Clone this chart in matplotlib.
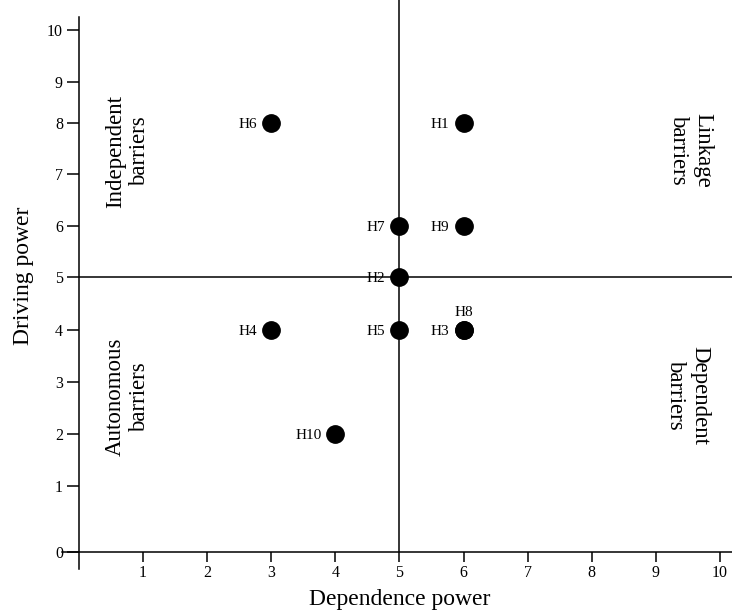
import numpy as np
import matplotlib
matplotlib.use("Agg")
from matplotlib import pyplot as plt

plt.rcParams['font.family'] = ['Liberation Serif', 'DejaVu Serif']

# barriers: dependence power (x), driving power (y)
names = ['H1', 'H2', 'H3', 'H4', 'H5', 'H6', 'H7', 'H8', 'H9', 'H10']
dependence = [6, 5, 6, 3, 5, 3, 5, 6, 6, 4]
driving = [8, 5, 4, 4, 4, 8, 6, 4, 6, 2]
label_above = ['H8']

x_ticks = list(range(1, 11))
y_ticks = list(range(0, 11))

# the printed y axis is not evenly spaced, keep that spacing
y_tick_height = [0, 66, 118, 170, 222, 275, 326, 378, 429, 470, 522]
v_ext = np.array([-5] + y_ticks + [15], dtype=float)
h_ext = np.array([-330] + y_tick_height + [522 + 5 * 52], dtype=float)


def fwd(v):
    return np.interp(v, v_ext, h_ext)


def inv(h):
    return np.interp(h, h_ext, v_ext)


W, H = 732, 613
fig = plt.figure(figsize=(W / 100, H / 100), dpi=100)
ax = fig.add_axes([59.8 / W, 43 / H, (W - 59.8) / W, 570 / H])
ax.set_yscale('function', functions=(fwd, inv))
ax.set_xlim(-0.3, 10.19)
ax.set_ylim(-18 / 66, 10 + 30 / 52)

for s in ['top', 'right']:
    ax.spines[s].set_visible(False)
ax.spines['left'].set_position(('data', 0))
ax.spines['bottom'].set_position(('data', 0))
ax.spines['left'].set_bounds(-0.25, 10.25)
ax.spines['bottom'].set_bounds(-0.27, 10.19)
for s in ['left', 'bottom']:
    ax.spines[s].set_linewidth(1.1)

ax.set_xticks(x_ticks)
ax.set_yticks(y_ticks)
ax.yaxis.set_minor_locator(matplotlib.ticker.NullLocator())
ax.tick_params(axis='x', direction='out', length=7.2, width=1.1, labelsize=11.5, pad=2)
ax.tick_params(axis='y', direction='out', length=8.6, width=1.1, labelsize=11.5, pad=3)

# quadrant lines
ax.vlines(5, 0, 10 + 30 / 52, color='black', lw=1.1, zorder=1)
ax.hlines(5, 0, 10.19, color='black', lw=1.1, zorder=1)

ax.scatter(dependence, driving, s=156, color='black', zorder=3, clip_on=False)
for n, x, y in zip(names, dependence, driving):
    if n in label_above:
        ax.annotate(n, (x, y), xytext=(0, 10), textcoords='offset points',
                    ha='center', va='baseline', fontsize=11)
    else:
        ax.annotate(n, (x, y), xytext=(-10, 0), textcoords='offset points',
                    ha='right', va='center_baseline', fontsize=11)

qkw = dict(fontsize=16.5, ha='center', va='center', multialignment='center')
ax.text(0.76, 7.45, 'Independent\nbarriers', rotation=90, **qkw)
ax.text(0.76, 2.71, 'Autonomous\nbarriers', rotation=90, **qkw)
ax.text(9.55, 7.47, 'Linkage\nbarriers', rotation=270, **qkw)
ax.text(9.5, 2.75, 'Dependent\nbarriers', rotation=270, **qkw)

ax.set_xlabel('Dependence power', fontsize=17)
ax.xaxis.set_label_coords(0.505, -0.033)
ax.set_ylabel('Driving power', fontsize=17)
ax.yaxis.set_label_coords(-0.038, 0.516)

fig.savefig('out.png', dpi=100)
